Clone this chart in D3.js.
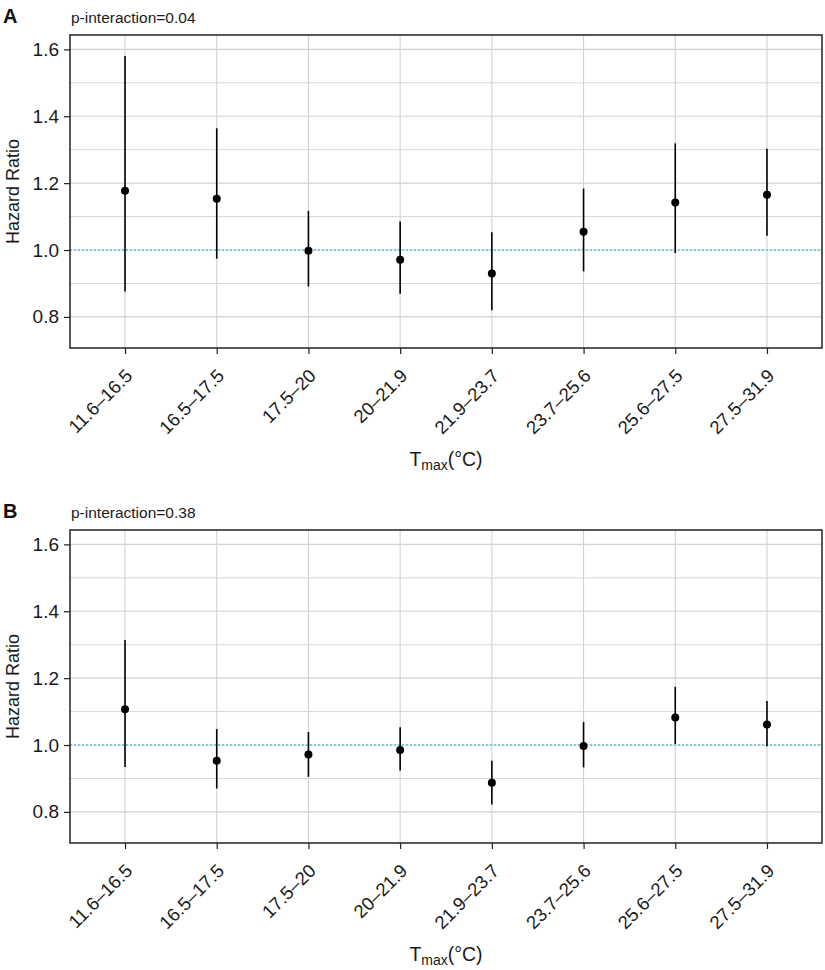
<!DOCTYPE html>
<html><head><meta charset="utf-8">
<script src="https://cdn.jsdelivr.net/npm/d3@7"></script>
<style>
body{margin:0;background:#fff;}
text{font-family:"Liberation Sans",Arial,Helvetica,sans-serif;}
</style></head>
<body><svg id="chart" width="825" height="970"></svg>
<script>
const categories = ["11.6–16.5","16.5–17.5","17.5–20","20–21.9","21.9–23.7","23.7–25.6","25.6–27.5","27.5–31.9"];
const hrA    = [1.177,1.153,0.998,0.971,0.930,1.055,1.142,1.165];
const lowerA = [0.876,0.974,0.891,0.869,0.820,0.936,0.991,1.043];
const upperA = [1.580,1.364,1.117,1.085,1.053,1.184,1.319,1.303];
const hrB    = [1.107,0.953,0.972,0.985,0.887,0.997,1.082,1.061];
const lowerB = [0.934,0.870,0.905,0.924,0.822,0.933,1.003,0.996];
const upperB = [1.314,1.048,1.039,1.053,0.953,1.069,1.174,1.132];
const yTicks = [0.8,1.0,1.2,1.4,1.6];
const yMinor = [0.9,1.1,1.3,1.5];
const panels = [
  {label:"A", note:"p-interaction=0.04", hr:hrA, lo:lowerA, hi:upperA},
  {label:"B", note:"p-interaction=0.38", hr:hrB, lo:lowerB, hi:upperB}
];

const svg = d3.select("#chart");
const left = 70, right = 822, ph = 313;
const tops = [35, 530];

const x = d3.scalePoint().domain(categories).range([left, right]).padding(0.6);

panels.forEach((p, i) => {
  const top = tops[i], bottom = top + ph;
  const y = d3.scaleLinear().domain([0.707, 1.643]).range([bottom, top]);
  const g = svg.append("g");

  // grid
  g.selectAll(".gmin").data(yMinor).enter().append("line")
    .attr("x1", left).attr("x2", right).attr("y1", d=>y(d)).attr("y2", d=>y(d))
    .attr("stroke", "#d3d9d9").attr("stroke-width", 1);
  g.selectAll(".gmaj").data(yTicks).enter().append("line")
    .attr("x1", left).attr("x2", right).attr("y1", d=>y(d)).attr("y2", d=>y(d))
    .attr("stroke", "#cdd4d4").attr("stroke-width", 1.1);
  g.selectAll(".gx").data(categories).enter().append("line")
    .attr("x1", d=>x(d)).attr("x2", d=>x(d)).attr("y1", top).attr("y2", bottom)
    .attr("stroke", "#cdd4d4").attr("stroke-width", 1.1);

  // reference line
  g.append("line").attr("x1", left).attr("x2", right).attr("y1", y(1)).attr("y2", y(1))
    .attr("stroke", "#7acde3").attr("stroke-width", 2).attr("stroke-dasharray", "2,2");

  // error bars and points
  const rows = categories.map((c, k) => ({c, hr:p.hr[k], lo:p.lo[k], hi:p.hi[k]}));
  g.selectAll(".eb").data(rows).enter().append("line")
    .attr("x1", d=>x(d.c)).attr("x2", d=>x(d.c)).attr("y1", d=>y(d.lo)).attr("y2", d=>y(d.hi))
    .attr("stroke", "#000").attr("stroke-width", 1.6);
  g.selectAll(".pt").data(rows).enter().append("circle")
    .attr("cx", d=>x(d.c)).attr("cy", d=>y(d.hr)).attr("r", 4)
    .attr("fill", "#000");

  // frame
  g.append("rect").attr("x", left).attr("y", top).attr("width", right-left).attr("height", ph)
    .attr("fill", "none").attr("stroke", "#222").attr("stroke-width", 1.5);

  // y axis
  const ya = g.append("g").attr("transform", `translate(${left},0)`)
    .call(d3.axisLeft(y).tickValues(yTicks).tickFormat(d3.format(".1f")).tickSize(6).tickPadding(5));
  ya.select(".domain").remove();
  ya.selectAll("line").attr("stroke", "#222").attr("stroke-width", 1.2);
  ya.selectAll("text").attr("font-size", 19).attr("fill", "#1a1a1a");

  // x axis
  const xa = g.append("g").attr("transform", `translate(0,${bottom})`)
    .call(d3.axisBottom(x).tickSize(6).tickPadding(4));
  xa.select(".domain").remove();
  xa.selectAll("line").attr("stroke", "#222").attr("stroke-width", 1.2);
  xa.selectAll("text").attr("font-size", 18.5).attr("fill", "#1a1a1a")
    .attr("text-anchor", "end").attr("dy", null).attr("y", 0)
    .attr("transform", "translate(8,29) rotate(-45)");

  // labels
  g.append("text").attr("x", 3).attr("y", top - 12.5).attr("font-size", 20).attr("font-weight", "bold")
    .attr("fill", "#111").text(p.label);
  g.append("text").attr("x", left + 1).attr("y", top - 12.5).attr("font-size", 15.5)
    .attr("fill", "#1a1a1a").text(p.note);
  g.append("text").attr("transform", `translate(19,${(top+bottom)/2}) rotate(-90)`)
    .attr("text-anchor", "middle").attr("font-size", 18).attr("fill", "#1a1a1a").text("Hazard Ratio");
  const t = g.append("text").attr("x", (left+right)/2).attr("y", bottom + 118)
    .attr("text-anchor", "middle").attr("font-size", 19.5).attr("fill", "#1a1a1a");
  t.append("tspan").text("T");
  t.append("tspan").attr("font-size", 14).attr("dy", 4).text("max");
  t.append("tspan").attr("dy", -4).text("(°C)");
});
</script></body></html>
